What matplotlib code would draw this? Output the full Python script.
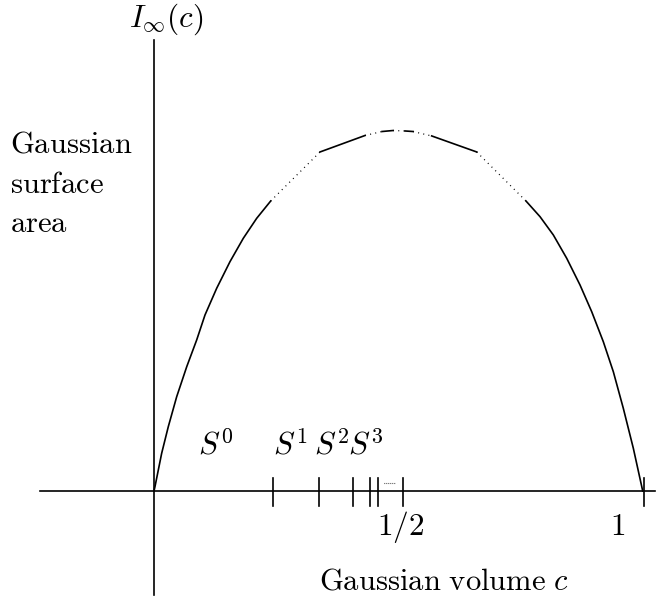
import matplotlib
matplotlib.use("Agg")
import matplotlib.pyplot as plt

plt.rcParams['mathtext.fontset'] = 'cm'

# === Data (c = Gaussian volume, I = surface area) ===
# outer solid arcs of I_inf(c)
left_c = [0.0, 0.0020, 0.0157, 0.0292, 0.0464, 0.0669, 0.0873, 0.1043,
          0.1282, 0.1554, 0.1826, 0.2100, 0.2386]
left_I = [0.0, 0.0048, 0.0417, 0.0710, 0.1042, 0.1373, 0.1669, 0.1945,
          0.2240, 0.2534, 0.2792, 0.3013, 0.3204]
right_c = [0.7607, 0.7894, 0.8166, 0.8440, 0.8712, 0.8951, 0.9188, 0.9393,
           0.9597, 0.9802, 0.9994]
right_I = [0.3204, 0.3031, 0.2829, 0.2571, 0.2276, 0.1981, 0.1650, 0.1318,
           0.0914, 0.0472, 0.0]

# chord vertices across the top, segments alternate dotted / solid
top_c = [0.2386, 0.3395, 0.4315, 0.4663, 0.4888, 0.5133, 0.5297, 0.5679, 0.6599, 0.7607]
top_I = [0.3204, 0.3746, 0.3928, 0.3972, 0.3983, 0.3978, 0.3972, 0.3923, 0.3746, 0.3204]
top_solid = [False, True, False, True, False, True, False, True, False]

# tick marks on the volume axis
tick_c = [0.2434, 0.3374, 0.4076, 0.4417, 0.4575, 0.5086, 1.002]

sphere_labels = ['$S^0$', '$S^1$', '$S^2$', '$S^3$']
sphere_c = [0.090, 0.2434, 0.3272, 0.3965]

# === Figure ===
fig = plt.figure(figsize=(6.57, 5.99), dpi=100)
ax = fig.add_axes([0, 0, 1, 1])
ax.set_xlim(-0.3149, 1.0286)
ax.set_ylim(-0.1193, 0.5425)
ax.axis('off')

lw = 1.2
# axes
ax.plot([-0.2331, 1.0245], [0, 0], color='black', lw=lw)
ax.plot([0, 0], [-0.1149, 0.4983], color='black', lw=lw)

# curve
ax.plot(left_c, left_I, color='black', lw=lw, solid_joinstyle='round')
ax.plot(right_c, right_I, color='black', lw=lw, solid_joinstyle='round')
for i, solid in enumerate(top_solid):
    seg_c = top_c[i:i + 2]
    seg_I = top_I[i:i + 2]
    if solid:
        ax.plot(seg_c, seg_I, color='black', lw=lw)
    else:
        ax.plot(seg_c, seg_I, color='black', lw=0.9,
                linestyle=(0, (0.8, 3.4)), dash_capstyle='butt')

# ticks
for c in tick_c:
    ax.plot([c, c], [-0.0171, 0.0144], color='black', lw=lw)
ax.plot([0.47, 0.494], [0.0092, 0.0092], color='black', lw=0.8,
        linestyle=(0, (0.6, 1.2)))

# labels
fs_txt = 22
fs_math = 22.5
ax.text(0.0245, 0.5130, r'$I_\infty(c)$', fontsize=fs_math, ha='center', va='baseline')
ax.text(-0.294, 0.3738, r'$\mathrm{Gaussian}$', fontsize=fs_txt, ha='left', va='baseline')
ax.text(-0.294, 0.3296, r'$\mathrm{surface}$', fontsize=fs_txt, ha='left', va='baseline')
ax.text(-0.294, 0.2865, r'$\mathrm{area}$', fontsize=fs_txt, ha='left', va='baseline')
for lab, c in zip(sphere_labels, sphere_c):
    ax.text(c, 0.0398, lab, fontsize=fs_math, ha='left', va='baseline')
ax.text(0.4560, -0.0486, r'$1/2$', fontsize=fs_math, ha='left', va='baseline')
ax.text(0.9479, -0.0486, r'$1$', fontsize=fs_math, ha='center', va='baseline')
ax.text(0.3380, -0.1083, r'$\mathrm{Gaussian\ volume}\ c$', fontsize=fs_txt,
        ha='left', va='baseline')

fig.savefig('out.png', dpi=100)
